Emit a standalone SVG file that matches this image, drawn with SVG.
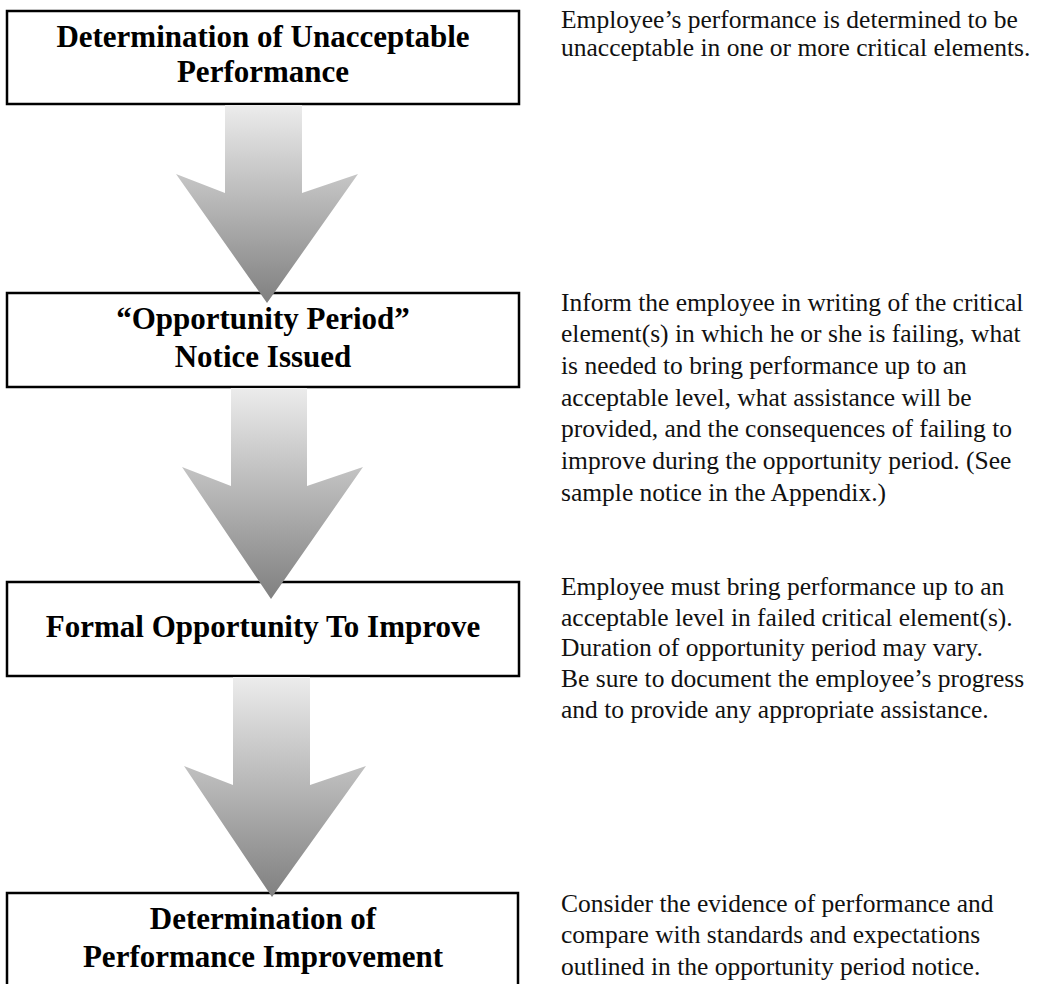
<svg xmlns="http://www.w3.org/2000/svg" width="1054" height="984" viewBox="0 0 1054 984">
<defs>
<style>
.box{fill:#fff;stroke:#000;stroke-width:2.5}
.title{font-family:"Liberation Serif","Times New Roman",serif;font-weight:bold;font-size:31px;fill:#000;text-anchor:middle}
.desc{font-family:"Liberation Serif","Times New Roman",serif;font-size:25.5px;fill:#111}
.arrow{fill:url(#g)}
</style>
<linearGradient id="g" x1="0" y1="0" x2="0" y2="1">
<stop offset="0" stop-color="#ececec"/>
<stop offset="1" stop-color="#808080"/>
</linearGradient>
</defs>
<rect width="1054" height="984" fill="#fff"/>
<g id="node1">
<rect class="box" x="7" y="11" width="512" height="93"/>
<text class="title" x="263" y="47">Determination of Unacceptable</text>
<text class="title" x="263" y="82">Performance</text>
</g>
<g id="node2">
<rect class="box" x="7" y="293" width="512" height="94"/>
<text class="title" x="263" y="329">“Opportunity Period”</text>
<text class="title" x="263" y="367">Notice Issued</text>
</g>
<g id="node3">
<rect class="box" x="7" y="582" width="512" height="94"/>
<text class="title" x="263" y="637">Formal Opportunity To Improve</text>
</g>
<g id="node4">
<rect class="box" x="7" y="893" width="511" height="100"/>
<text class="title" x="263" y="929">Determination of</text>
<text class="title" x="263" y="967">Performance Improvement</text>
</g>
<g id="connectors">
<polygon class="arrow" points="225,105 302,105 302,193 358,174 267,303 176,174 225,193"/>
<polygon class="arrow" points="231,388 307,388 307,486 363,467 271,599 182,467 231,486"/>
<polygon class="arrow" points="233,677 310,677 310,785 366,766 272,897 184,766 233,785"/>
</g>
<g id="notes">
<text class="desc" x="561" y="28">Employee’s performance is determined to be</text>
<text class="desc" x="561" y="56">unacceptable in one or more critical elements.</text>
<text class="desc" x="561" y="311">Inform the employee in writing of the critical</text>
<text class="desc" x="561" y="342">element(s) in which he or she is failing, what</text>
<text class="desc" x="561" y="374">is needed to bring performance up to an</text>
<text class="desc" x="561" y="406">acceptable level, what assistance will be</text>
<text class="desc" x="561" y="437">provided, and the consequences of failing to</text>
<text class="desc" x="561" y="469">improve during the opportunity period. (See</text>
<text class="desc" x="561" y="501">sample notice in the Appendix.)</text>
<text class="desc" x="561" y="595">Employee must bring performance up to an</text>
<text class="desc" x="561" y="626">acceptable level in failed critical element(s).</text>
<text class="desc" x="561" y="656">Duration of opportunity period may vary.</text>
<text class="desc" x="561" y="687">Be sure to document the employee’s progress</text>
<text class="desc" x="561" y="718">and to provide any appropriate assistance.</text>
<text class="desc" x="561" y="912">Consider the evidence of performance and</text>
<text class="desc" x="561" y="943">compare with standards and expectations</text>
<text class="desc" x="561" y="975">outlined in the opportunity period notice.</text>
</g>
</svg>
